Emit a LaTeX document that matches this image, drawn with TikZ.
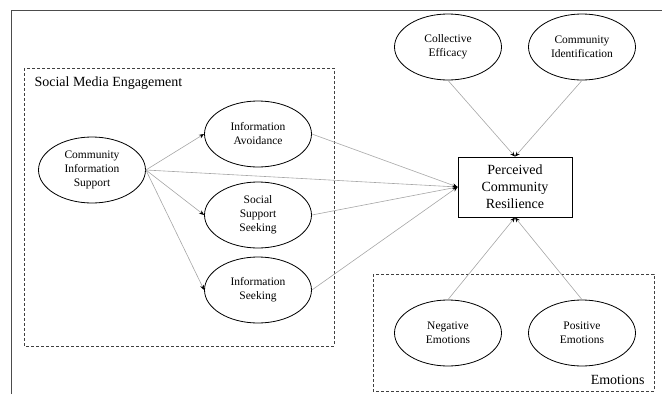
\documentclass[tikz,border=0pt]{standalone}
\usepackage{fontspec}
\setmainfont{Liberation Serif}
\usetikzlibrary{
    arrows.meta,
    shapes.geometric,
    positioning
}
\tikzset{
    construct/.style={draw, ellipse, thick, minimum width=107pt, minimum height=66pt,
        inner sep=0pt, align=center, font=\fontsize{11.5}{14}\selectfont},
    outcome/.style={draw, thick, minimum width=114pt, minimum height=60pt,
        inner sep=0pt, align=center, font=\fontsize{14}{17}\selectfont},
    link/.style={draw=gray!70, line width=0.6pt, -{Stealth[black, length=5pt, width=4pt]}},
    group/.style={draw=black!75, line width=0.8pt, dash pattern=on 3pt off 2pt}
}

\begin{document}
\begin{tikzpicture}[x=1pt, y=-1pt]
    \useasboundingbox (0, 0) rectangle (662, 394);

    % frame, open to the right and bottom
    \draw[black!70, line width=1pt] (11, 394) -- (11, 10) -- (662, 10);

    % groups
    \draw[group] (24, 68) rectangle (334, 346);
    \node[anchor=west, font=\fontsize{14}{17}\selectfont] (smlabel) at (31, 83) {Social Media Engagement};
    \draw[group] (373, 274) rectangle (654, 391);
    \node[anchor=east, font=\fontsize{14}{17}\selectfont] (emlabel) at (648, 380) {Emotions};

    % constructs
    \node[construct] (cis) at (92, 170) {Community\\Information\\Support};
    \node[construct] (ia) at (258, 134) {Information\\Avoidance};
    \node[construct] (sss) at (258, 215) {Social\\Support\\Seeking};
    \node[construct] (is) at (258, 290) {Information\\Seeking};
    \node[outcome] (pcr) at (515, 187) {Perceived\\Community\\Resilience};
    \node[construct] (ce) at (448, 47) {Collective\\Efficacy};
    \node[construct] (ci) at (582, 47) {Community\\Identification};
    \node[construct] (ne) at (448, 333) {Negative\\Emotions};
    \node[construct] (pe) at (582, 333) {Positive\\Emotions};

    % paths
    \draw[link] (cis.east) -- (ia.west);
    \draw[link] (cis.east) -- (sss.west);
    \draw[link] (cis.east) -- (is.west);
    \draw[link] (cis.east) -- (pcr.west);
    \draw[link] (ia.east) -- (pcr.west);
    \draw[link] (sss.east) -- (pcr.west);
    \draw[link] (is.east) -- (pcr.west);
    \draw[link] (ce.south) -- (pcr.north);
    \draw[link] (ci.south) -- (pcr.north);
    \draw[link] (ne.north) -- (pcr.south);
    \draw[link] (pe.north) -- (pcr.south);
\end{tikzpicture}
\end{document}
